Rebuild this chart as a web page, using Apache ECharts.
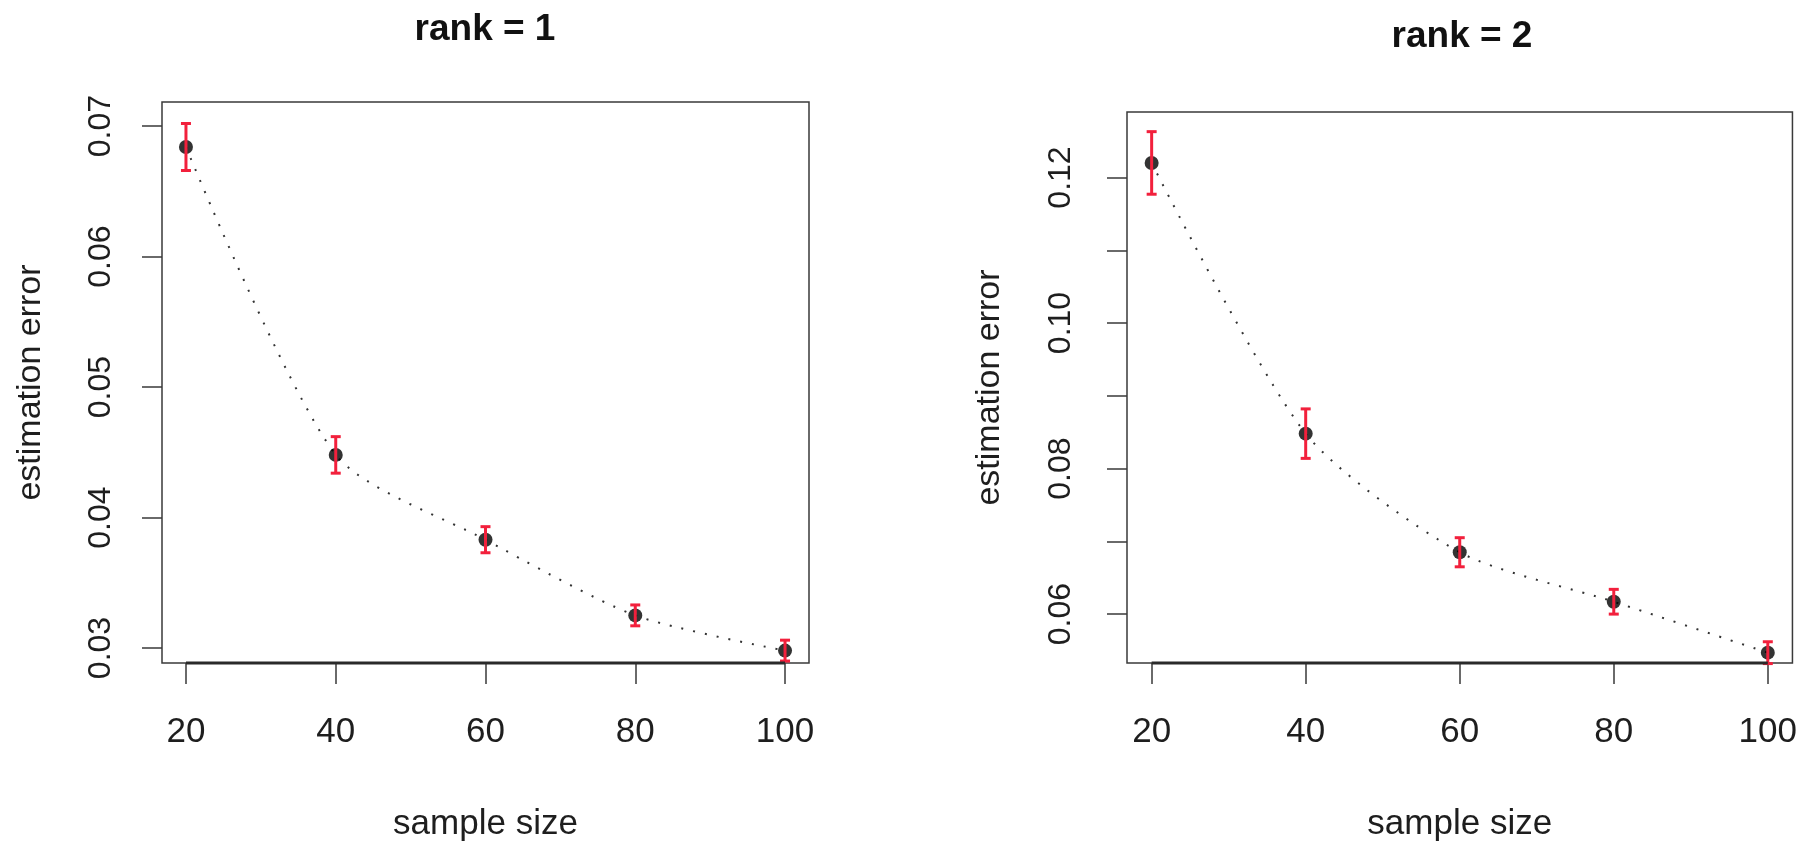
<!DOCTYPE html>
<html>
<head>
<meta charset="utf-8">
<script src="https://cdn.jsdelivr.net/npm/echarts@6/dist/echarts.min.js"></script>
<style>
html,body{margin:0;padding:0;background:#fff;}
#chart{width:1800px;height:847px;}
</style>
</head>
<body>
<div id="chart"></div>
<script>
// ---- data ----
const sampleSizes = [20, 40, 60, 80, 100];
const rank1Mean = [0.0684, 0.0448, 0.0383, 0.0325, 0.0298];
const rank1Err  = [0.0018, 0.0014, 0.0010, 0.0008, 0.0008];
const rank2Mean = [0.1220, 0.0848, 0.0685, 0.0617, 0.0547];
const rank2Err  = [0.0043, 0.0034, 0.0020, 0.0017, 0.0015];
const xTicks = [20, 40, 60, 80, 100];
const rank1YTicks = [0.03, 0.04, 0.05, 0.06, 0.07];
const rank1YLabels = [0.03, 0.04, 0.05, 0.06, 0.07];
const rank2YTicks = [0.06, 0.07, 0.08, 0.09, 0.10, 0.11, 0.12];
const rank2YLabels = [0.06, 0.08, 0.10, 0.12];
const titles = ['rank = 1', 'rank = 2'];
const xName = 'sample size';
const yName = 'estimation error';

// ---- styling ----
const FONT = '"Liberation Sans", Arial, Helvetica, sans-serif';
const TXT = '#1e1e1e';
const AX = '#3a3a3a';
const RED = '#f2203c';

const chart = echarts.init(document.getElementById('chart'), null, {renderer: 'canvas'});

const xMin = 16.8, xMax = 103.2;
const yRanges = [[0.02885, 0.07185], [0.05328, 0.1290]];

function xAxisDef(gi) {
  return {
    type: 'value', gridIndex: gi, min: xMin, max: xMax,
    axisLine: {show: false},
    splitLine: {show: false},
    axisTick: {show: true, customValues: xTicks, length: 21, lineStyle: {color: AX, width: 1.5}},
    axisLabel: {show: true, customValues: xTicks, margin: 52, color: TXT, fontSize: 35, fontFamily: FONT},
    name: xName, nameLocation: 'middle', nameGap: 144,
    nameTextStyle: {color: TXT, fontSize: 35, fontFamily: FONT}
  };
}
function yAxisDef(gi, ticks, labels, range, labelMargin, nameGap) {
  return {
    type: 'value', gridIndex: gi, min: range[0], max: range[1],
    axisLine: {show: false},
    splitLine: {show: false},
    axisTick: {show: true, customValues: ticks, length: 20, lineStyle: {color: AX, width: 1.5}},
    axisLabel: {show: true, customValues: labels, rotate: 90, margin: labelMargin,
      color: TXT, fontSize: 32, fontFamily: FONT,
      formatter: v => Number(v).toFixed(2)},
    name: yName, nameLocation: 'middle', nameRotate: 90, nameGap: nameGap,
    nameTextStyle: {color: TXT, fontSize: 34, fontFamily: FONT}
  };
}

function errorBarSeries(gi, mean, err) {
  return {
    type: 'custom', xAxisIndex: gi, yAxisIndex: gi, z: 5,
    data: sampleSizes.map((x, i) => [x, mean[i] - err[i], mean[i] + err[i]]),
    encode: {x: 0, y: [1, 2]},
    renderItem: function (params, api) {
      const x = api.value(0), lo = api.value(1), hi = api.value(2);
      const pTop = api.coord([x, hi]);
      const pBot = api.coord([x, lo]);
      const w = 5;
      const st = {stroke: RED, lineWidth: 3};
      return {
        type: 'group',
        children: [
          {type: 'line', shape: {x1: pTop[0], y1: pTop[1], x2: pBot[0], y2: pBot[1]}, style: st},
          {type: 'line', shape: {x1: pTop[0] - w, y1: pTop[1], x2: pTop[0] + w, y2: pTop[1]}, style: st},
          {type: 'line', shape: {x1: pBot[0] - w, y1: pBot[1], x2: pBot[0] + w, y2: pBot[1]}, style: st}
        ]
      };
    }
  };
}
function axisSegmentSeries(gi, yMin) {
  return {
    type: 'custom', xAxisIndex: gi, yAxisIndex: gi, z: 6, silent: true,
    data: [[xTicks[0], xTicks[xTicks.length - 1], yMin]],
    encode: {x: [0, 1], y: 2},
    clip: false,
    renderItem: function (params, api) {
      const a = api.coord([api.value(0), api.value(2)]);
      const b = api.coord([api.value(1), api.value(2)]);
      return {type: 'line', shape: {x1: a[0], y1: a[1], x2: b[0], y2: b[1]},
        style: {stroke: '#2a2a2a', lineWidth: 3}};
    }
  };
}

function lineSeries(gi, mean) {
  return {
    type: 'line', xAxisIndex: gi, yAxisIndex: gi, z: 2,
    data: sampleSizes.map((x, i) => [x, mean[i]]),
    smooth: 0.25, showSymbol: false, symbol: 'none',
    lineStyle: {color: '#333', width: 2, type: [2, 10]}
  };
}
function pointSeries(gi, mean) {
  return {
    type: 'scatter', xAxisIndex: gi, yAxisIndex: gi, z: 3,
    data: sampleSizes.map((x, i) => [x, mean[i]]),
    symbol: 'circle', symbolSize: 14,
    itemStyle: {color: '#000000'}
  };
}

const option = {
  backgroundColor: '#ffffff',
  animation: false,
  title: [
    {text: titles[0], left: 485, top: 11, textAlign: 'center', padding: 0,
      textStyle: {color: '#111', fontSize: 37, fontWeight: 'bold', fontFamily: FONT}},
    {text: titles[1], left: 1462, top: 18, textAlign: 'center', padding: 0,
      textStyle: {color: '#111', fontSize: 37, fontWeight: 'bold', fontFamily: FONT}}
  ],
  grid: [
    {left: 162, top: 102, width: 647, height: 574, show: true, borderColor: AX, borderWidth: 1.5, backgroundColor: 'transparent'},
    {left: 1127, top: 112, width: 670, height: 564, show: true, borderColor: AX, borderWidth: 1.5, backgroundColor: 'transparent'}
  ],
  xAxis: [xAxisDef(0), xAxisDef(1)],
  yAxis: [
    yAxisDef(0, rank1YTicks, rank1YLabels, yRanges[0], 45, 114),
    yAxisDef(1, rank2YTicks, rank2YLabels, yRanges[1], 50, 120)
  ],
  series: [
    lineSeries(0, rank1Mean), pointSeries(0, rank1Mean), errorBarSeries(0, rank1Mean, rank1Err), axisSegmentSeries(0, yRanges[0][0]),
    lineSeries(1, rank2Mean), pointSeries(1, rank2Mean), errorBarSeries(1, rank2Mean, rank2Err), axisSegmentSeries(1, yRanges[1][0])
  ]
};
chart.setOption(option);
</script>
</body>
</html>
